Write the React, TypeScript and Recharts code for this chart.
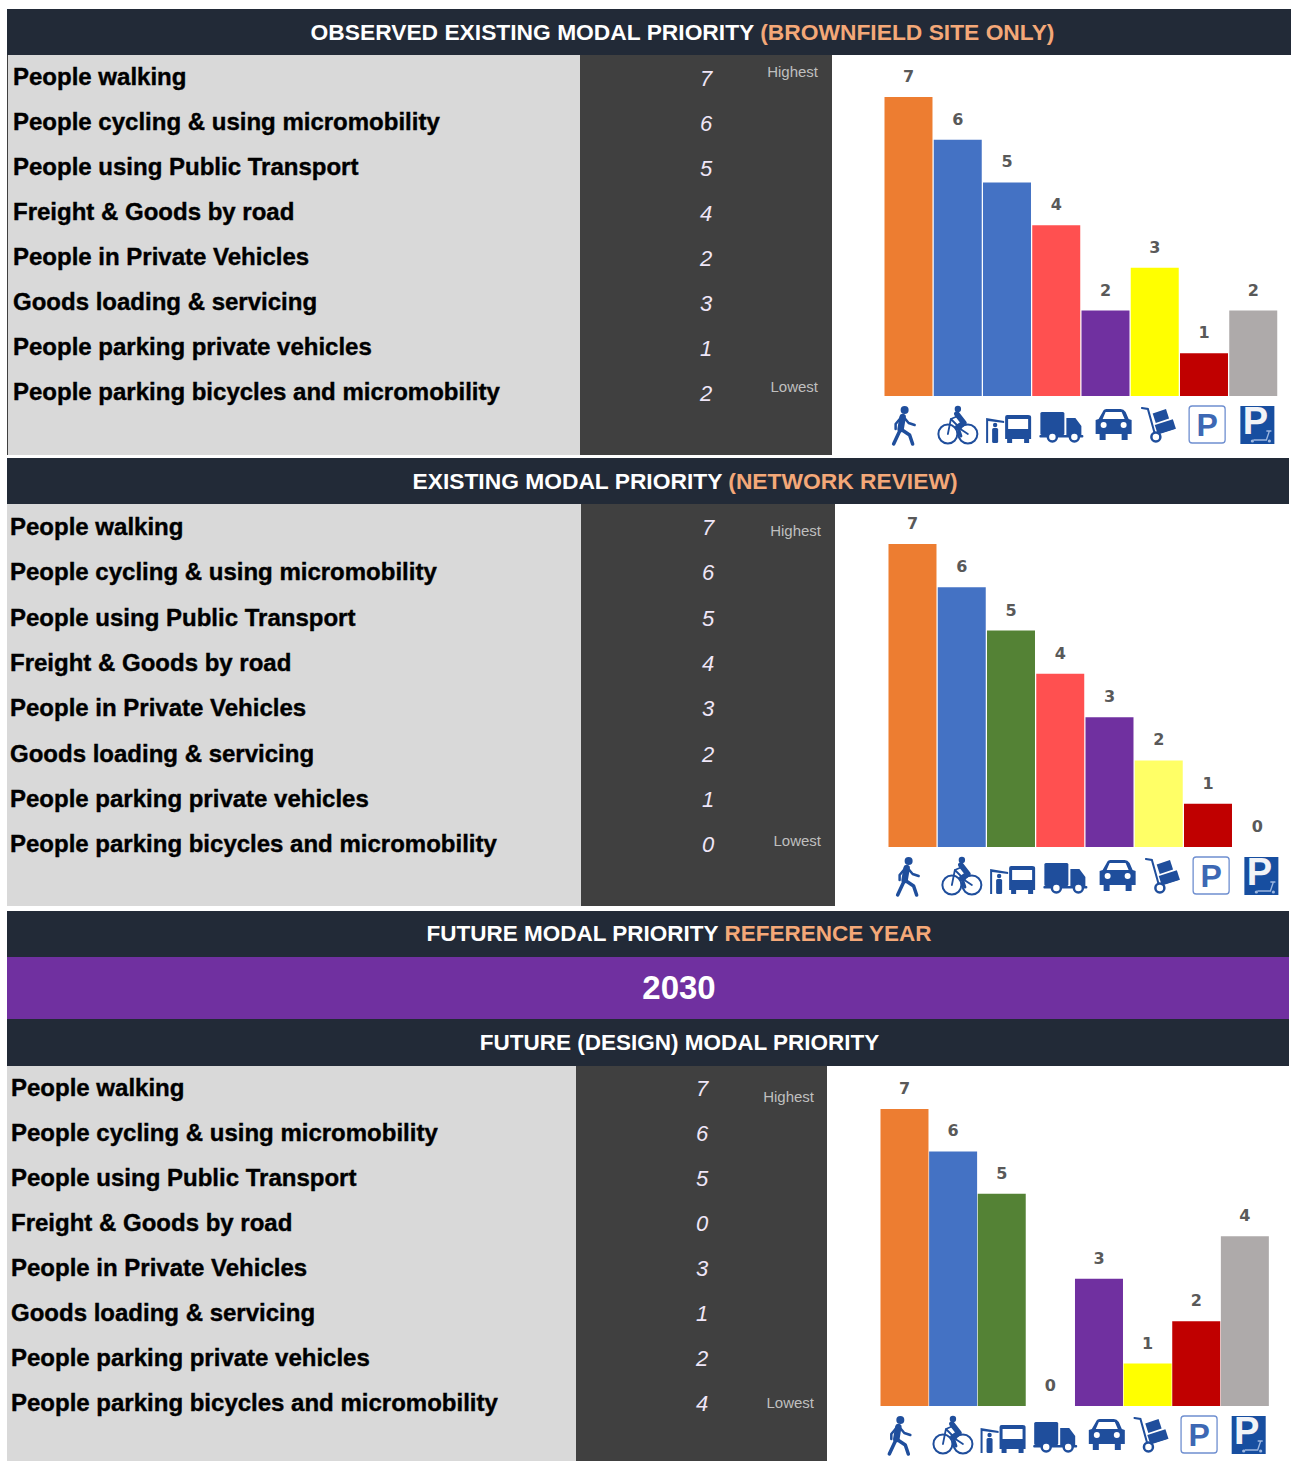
import React from "react";
import { BarChart, Bar, XAxis, YAxis, Cell, LabelList } from "recharts";

const modes = [
  "People walking",
  "People cycling & using micromobility",
  "People using Public Transport",
  "Freight & Goods by road",
  "People in Private Vehicles",
  "Goods loading & servicing",
  "People parking private vehicles",
  "People parking bicycles and micromobility",
];
const observedValues = [7, 6, 5, 4, 2, 3, 1, 2];
const networkValues = [7, 6, 5, 4, 3, 2, 1, 0];
const futureValues = [7, 6, 5, 0, 3, 1, 2, 4];
const observedColors = ["#ED7D31", "#4472C4", "#4472C4", "#FF5050", "#7030A0", "#FFFF00", "#C00000", "#AEAAAA"];
const networkColors = ["#ED7D31", "#4472C4", "#548235", "#FF5050", "#7030A0", "#FFFF66", "#C00000", "#AEAAAA"];
const futureColors = ["#ED7D31", "#4472C4", "#548235", "#FF5050", "#7030A0", "#FFFF00", "#C00000", "#AEAAAA"];

const SANS = "'Liberation Sans', Arial, sans-serif";
const NAVY = "#222A37";
const ICON = "#1F4E9C";
const iconShift = [-5, 0, 2, 5, 8, 4, 3, 4];

function IconShape({ index }: { index: number }) {
  const c = ICON;
  switch (index) {
    case 0:
      return (
        <g fill="none" stroke={c} strokeLinecap="round" strokeLinejoin="round">
          <circle cx="1" cy="-15" r="4" fill={c} stroke="none" />
          <path d="M-1,-8 L-3,4" strokeWidth="6.5" />
          <path d="M-3,4 L-10,19" strokeWidth="3.5" />
          <path d="M-3,4 L6,10 L9,19" strokeWidth="3.5" />
          <path d="M0,-8 L5,-2 L11,0" strokeWidth="2.5" />
          <path d="M-3,-7 L-8,-1 L-8,4" strokeWidth="2.5" />
        </g>
      );
    case 1:
      return (
        <g fill="none" stroke={c} strokeLinecap="round" strokeLinejoin="round">
          <circle cx="-10" cy="9" r="9.5" strokeWidth="2" />
          <circle cx="10" cy="9" r="9.5" strokeWidth="2" />
          <circle cx="0" cy="-16" r="3.2" fill={c} stroke="none" />
          <path d="M-1,-11 L6,-2 L0,2" strokeWidth="5.5" />
          <path d="M0,2 L3,11" strokeWidth="3" />
          <path d="M-10,9 L-7,-6 L4,5 L10,9 M-7,-6 L0,-9" strokeWidth="1.8" />
        </g>
      );
    case 2:
      return (
        <g fill={c}>
          <path d="M-23,18 L-23,-7 L-5,-4 L-5,-2 L-21,-4 L-21,18 Z" />
          <circle cx="-14" cy="0" r="2.2" />
          <rect x="-17" y="3" width="6" height="15" rx="1.5" />
          <path fillRule="evenodd" d="M-4,-8 Q-4,-10 -2,-10 L19,-10 Q22,-10 22,-8 L22,14 L20,14 L20,18 L15,18 L15,14 L3,14 L3,18 L-2,18 L-2,14 L-4,14 Z M-1,-6 L-1,4 L19,4 L19,-6 Z" />
        </g>
      );
    case 3:
      return (
        <g fill={c}>
          <rect x="-21" y="-13" width="24" height="23" rx="1.5" />
          <path d="M5,-7 L14,-7 L20,1 L20,10 L5,10 Z" />
          <rect x="-22" y="10" width="44" height="2.5" rx="1" />
          <circle cx="-9" cy="12" r="4.5" fill="#fff" stroke={c} strokeWidth="2.5" />
          <circle cx="13" cy="12" r="4.5" fill="#fff" stroke={c} strokeWidth="2.5" />
        </g>
      );
    case 4:
      return (
        <g fill={c}>
          <path fillRule="evenodd" d="M-11,-13 Q-10,-16 -7,-16 L7,-16 Q10,-16 12,-13 L15,-6 L18,-5 L18,9 L14,9 L14,15 L8,15 L8,9 L-8,9 L-8,15 L-14,15 L-14,9 L-18,9 L-18,-5 L-15,-6 Z M-8,-13 L-11,-6 L11,-6 L8,-13 Z M-13,0 a3,3 0 1,0 6,0 a3,3 0 1,0 -6,0 Z M7,0 a3,3 0 1,0 6,0 a3,3 0 1,0 -6,0 Z" />
        </g>
      );
    case 5:
      return (
        <g>
          <path d="M-17,-17 L-11,-16 L-4,9 L15,3" fill="none" stroke={c} strokeWidth="2" strokeLinecap="round" />
          <circle cx="-3" cy="12" r="4.5" fill="#fff" stroke={c} strokeWidth="2.5" />
          <rect x="-5" y="-14" width="14" height="10" fill={c} transform="rotate(-18 2 -9)" />
          <rect x="-3" y="-3" width="19" height="10" fill={c} transform="rotate(-18 6 2)" />
        </g>
      );
    case 6:
      return (
        <g>
          <rect x="-18" y="-19" width="36" height="37" rx="3" fill="#fff" stroke="#6F8FD0" strokeWidth="1.3" />
          <text x="0" y="11" textAnchor="middle" fontFamily={SANS} fontWeight="700" fontSize="32" fill="#3D68B4">P</text>
        </g>
      );
    default:
      return (
        <g>
          <rect x="-17" y="-19" width="34" height="38" fill="#174EA0" />
          <text x="-2" y="9" textAnchor="middle" fontFamily={SANS} fontWeight="700" fontSize="38" fill="#F1F3F7">P</text>
          <path d="M-4,15 L9,15 L12,6 M9,6 L14,6" fill="none" stroke="#9DB7E0" strokeWidth="1.3" />
          <circle cx="-5" cy="16" r="1.6" fill="#9DB7E0" />
          <circle cx="12" cy="16" r="1.6" fill="#9DB7E0" />
        </g>
      );
  }
}

function IconTick(props: any) {
  const { x, y, index } = props;
  return (
    <g transform={`translate(${x + iconShift[index]},${y + 21})`}>
      <IconShape index={index} />
    </g>
  );
}

function ValueLabel(props: any) {
  const { x, y, width, value } = props;
  return (
    <text
      x={x + width / 2}
      y={y - (value === 0 ? 14 : 15)}
      textAnchor="middle"
      fill="#595959"
      fontFamily="'DejaVu Sans', sans-serif"
      fontWeight={700}
      fontSize={16}
    >
      {value}
    </text>
  );
}

function BarPanel({ values, colors, left, baseline, topY, width }: any) {
  const rows = modes.map((mode, i) => ({ mode, value: values[i] }));
  const chartTop = topY - 37;
  const axisH = 60;
  const plotH = baseline - topY;
  return (
    <div style={{ position: "absolute", left, top: chartTop }}>
      <BarChart
        width={width}
        height={37 + plotH + axisH}
        data={rows}
        margin={{ top: 37, right: 0, bottom: 0, left: 0 }}
        barCategoryGap="1%"
      >
        <XAxis
          dataKey="mode"
          height={axisH}
          axisLine={false}
          tickLine={false}
          interval={0}
          tick={<IconTick />}
        />
        <YAxis hide domain={[0, 7]} />
        <Bar dataKey="value" isAnimationActive={false} minPointSize={1}>
          {rows.map((r, i) => (
            <Cell key={r.mode} fill={r.value > 0 ? colors[i] : "none"} />
          ))}
          <LabelList dataKey="value" content={<ValueLabel />} />
        </Bar>
      </BarChart>
    </div>
  );
}

function Band({ top, height, left, width, bg, cx, children, size = 22.8 }: any) {
  const shift = 2 * (cx - (left + width / 2));
  return (
    <div
      style={{
        position: "absolute", left, top, width, height, background: bg, color: "#fff",
        fontFamily: SANS, fontWeight: 700, fontSize: size, lineHeight: `${height}px`,
        textAlign: "center", whiteSpace: "pre", paddingLeft: shift, boxSizing: "border-box",
      }}
    >
      {children}
    </div>
  );
}

function Table({ top, bottom, left, split, right, labelX, firstY, step, valueX, valueDy, capRight, highY, lowY, values, edge }: any) {
  const abs = (extra: any) => ({ position: "absolute" as const, whiteSpace: "pre" as const, ...extra });
  return (
    <>
      <div style={abs({ left, top, width: split - left, height: bottom - top, background: "#D9D9D9" })} />
      {edge ? <div style={abs({ left, top, width: 1, height: bottom - top, background: "#404040" })} /> : null}
      <div style={abs({ left: split, top, width: right - split, height: bottom - top, background: "#404040" })} />
      {modes.map((m, i) => (
        <div
          key={m}
          style={abs({
            left: labelX, top: firstY + i * step - 14, height: 28, lineHeight: "28px",
            fontFamily: SANS, fontWeight: 700, fontSize: 24, color: "#000",
            WebkitTextStroke: "0.4px #000",
          })}
        >
          {m}
        </div>
      ))}
      {values.map((v: number, i: number) => (
        <div
          key={i}
          style={abs({
            left: valueX - 20, width: 40, textAlign: "center", top: firstY + valueDy + i * step - 14,
            height: 28, lineHeight: "28px", fontFamily: SANS, fontStyle: "italic", fontSize: 22, color: "#EFE6F8",
          })}
        >
          {v}
        </div>
      ))}
      <div style={abs({ right: 1295 - capRight, top: highY - 10, lineHeight: "20px", fontFamily: SANS, fontSize: 15, color: "#BFBFBF" })}>Highest</div>
      <div style={abs({ right: 1295 - capRight, top: lowY - 10, lineHeight: "20px", fontFamily: SANS, fontSize: 15, color: "#BFBFBF" })}>Lowest</div>
    </>
  );
}

const ORANGE = "#F4A878";

export default function App() {
  return (
    <div style={{ position: "absolute", left: 0, top: 0, width: 1295, height: 1461, background: "#fff", overflow: "hidden" }}>
      <Band top={9} height={46} left={7} width={1284} bg={NAVY} cx={682.5}>
        OBSERVED EXISTING MODAL PRIORITY <span style={{ color: ORANGE }}>(BROWNFIELD SITE ONLY)</span>
      </Band>
      <Table edge top={55} bottom={455} left={7} split={580} right={832} labelX={13} firstY={77} step={45} valueX={706} valueDy={2} capRight={818} highY={72} lowY={387} values={observedValues} />
      <BarPanel values={observedValues} colors={observedColors} left={884} baseline={396} topY={97} width={394} />

      <Band top={458} height={46} left={7} width={1282} bg={NAVY} cx={685}>
        EXISTING MODAL PRIORITY <span style={{ color: ORANGE }}>(NETWORK REVIEW)</span>
      </Band>
      <Table top={504} bottom={906} left={7} split={581} right={835} labelX={10} firstY={527} step={45.3} valueX={708} valueDy={1} capRight={821} highY={531} lowY={841} values={networkValues} />
      <BarPanel values={networkValues} colors={networkColors} left={888} baseline={847} topY={544} width={394} />

      <Band top={911} height={46} left={7} width={1282} bg={NAVY} cx={679} size={22.5}>
        FUTURE MODAL PRIORITY <span style={{ color: ORANGE }}>REFERENCE YEAR</span>
      </Band>
      <Band top={957} height={62} left={7} width={1282} bg="#7030A0" size={33} cx={679}>2030</Band>
      <Band top={1019} height={47} left={7} width={1282} bg={NAVY} cx={679.5} size={22.5}>FUTURE (DESIGN) MODAL PRIORITY</Band>
      <Table top={1066} bottom={1461} left={7} split={576} right={827} labelX={11} firstY={1088} step={45} valueX={702} valueDy={1} capRight={814} highY={1097} lowY={1403} values={futureValues} />
      <BarPanel values={futureValues} colors={futureColors} left={880} baseline={1406} topY={1109} width={389} />
    </div>
  );
}
